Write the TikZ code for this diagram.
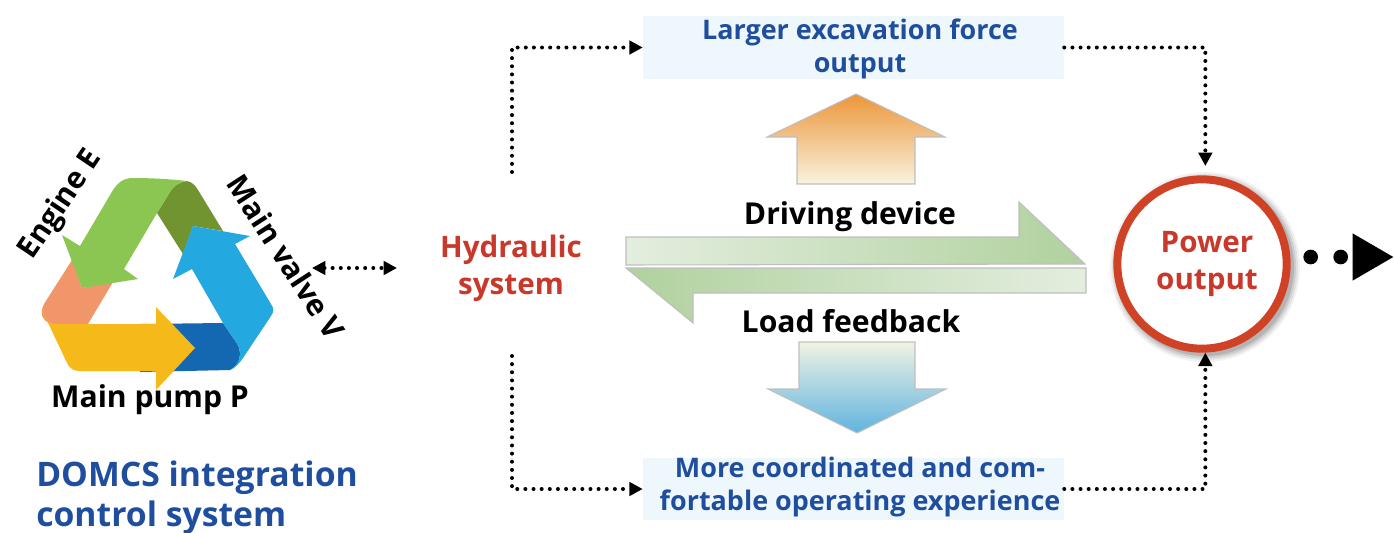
\documentclass[tikz,border=0pt]{standalone}
\usepackage{fontspec}
\setmainfont{Open Sans}
\usetikzlibrary{arrows.meta,calc}
\definecolor{redtxt}{HTML}{C8392B}
\definecolor{bluetxt}{HTML}{1F4E9E}
\definecolor{boxfill}{HTML}{EEF7FB}
\definecolor{ringred}{HTML}{D04226}
\definecolor{orgtop}{HTML}{EC963A}
\definecolor{orgbot}{HTML}{F8F3DF}
\definecolor{blutop}{HTML}{F0F3E3}
\definecolor{blubot}{HTML}{60B3E0}
\definecolor{grnlight}{HTML}{E4EEDF}
\definecolor{grndark}{HTML}{B0D19E}
\tikzset{
  lbl/.style={font=\bfseries\fontsize{22.6}{27}\selectfont,text=black,inner sep=0pt,align=center},
  rotlbl/.style={font=\bfseries\fontsize{22.4}{27}\selectfont,text=black,inner sep=0pt,align=center},
  boxrect/.style={fill=boxfill,inner sep=0pt,minimum width=315.75pt,minimum height=47pt},
  boxlbl/.style={font=\bfseries\fontsize{20.2}{24.5}\selectfont,text=bluetxt,inner sep=0pt,align=center},
  redlbl/.style={font=\bfseries\fontsize{22.2}{27.5}\selectfont,text=redtxt,inner sep=0pt,align=center},
  dots/.style={line width=3pt,line cap=round,dash pattern=on 0pt off 6.1pt,black},
  tipB/.style={-{Triangle[length=10pt,width=10pt]}},
  outl/.style={draw=black!25,line width=0.8pt},
}
\begin{document}
\begin{tikzpicture}[x=0.75pt,y=-0.75pt]
\useasboundingbox (0,0) rectangle (1394,532);
% recycling triangle
\fill[color={rgb,255:red,240;green,150;blue,106}] (72,260) -- (44,304) .. controls (41,310) and (41,316) .. (44,319) .. controls (47,323) and (50,324) .. (56,324) -- (88,324) -- (113,282) -- (82,288) -- cycle;
\fill[color={rgb,255:red,20;green,104;blue,178}] (140,324) -- (223,323) -- (238,345) .. controls (242,354) and (240,365) .. (230,370) -- (140,372) -- cycle;
\fill[color={rgb,255:red,113;green,147;blue,48}] (187,181) .. controls (192,182) and (195,185) .. (198,190) -- (223,231) -- (193,226) -- (183,254) -- (157,213) -- (170,192) .. controls (174,185) and (180,182) .. (187,181) -- cycle;
\fill[color={rgb,255:red,140;green,198;blue,82}] (62,235) -- (80,246) -- (113,190) .. controls (117,184) and (122,178) .. (133,178) .. controls (150,178) and (170,179) .. (187,181) .. controls (178,183) and (173,187) .. (170,192) -- (157,213) -- (124,269) -- (138,279) -- (82,288) -- cycle;
\fill[color={rgb,255:red,36;green,168;blue,224}] (193,226) -- (250,236) -- (235,244) -- (271,304) .. controls (274,308) and (274,312) .. (271,316) -- (243,358) .. controls (239,364) and (235,368) .. (230,370) .. controls (240,364) and (242,354) .. (238,345) -- (223,323) -- (192,269) -- (173,279) -- cycle;
\fill[color={rgb,255:red,246;green,185;blue,26}] (42,310) .. controls (44,318) and (47,324) .. (56,324) -- (156,324) -- (156,307) -- (195,348) -- (156,390) -- (156,371) -- (80,371) .. controls (74,371) and (70,369) .. (67,363) -- cycle;
\node[rotlbl,rotate=56] (engine) at (61,205) {Engine E};
\node[rotlbl,rotate=-57] (valve) at (286,257) {Main valve V};
\node[lbl] (pump) at (150,400) {Main pump P};
\node[font=\bfseries\fontsize{25.3}{30}\selectfont,text=bluetxt,inner sep=0pt,align=left,anchor=west] (domcs) at (36,497.5) {DOMCS integration\\control system};
% centre arrows
\shade[top color=orgtop,bottom color=orgbot,outl] (856,94) -- (945,137) -- (915,137) -- (915,184) -- (797,184) -- (797,137) -- (767,137) -- cycle;
\shade[top color=blutop,bottom color=blubot,outl] (799,342) -- (915,342) -- (915,389) -- (946,389) -- (857,433) -- (768,389) -- (799,389) -- cycle;
\shade[left color=grnlight,right color=grndark,outl] (626,237) -- (1019,237) -- (1019,202) -- (1085,264) -- (626,265) -- cycle;
\shade[left color=grndark,right color=grnlight,outl] (626,268) -- (1086,268) -- (1086,293) -- (693,293) -- (693,323) -- cycle;
\node[lbl] (driving) at (850,217) {Driving device};
\node[lbl] (load) at (851,321.5) {Load feedback};
\node[redlbl] (hyd) at (511,268) {Hydraulic\\system};
\node[boxrect] (topbox) at (853.5,47.5) {};
\node[boxrect] (botbox) at (853.5,489) {};
\node[boxlbl] (toplbl) at (860,49) {Larger excavation force\\output};
\node[boxlbl] (botlbl) at (860,487) {More coordinated and com-\\fortable operating experience};
% power ring
\foreach \r/\o in {95/.05,93/.07,91/.09,89/.12}{\fill[black,opacity=\o] (1205,267) circle (\r);}
\node[circle,draw=ringred,line width=6pt,fill=white,minimum size=127pt,inner sep=0pt] (power) at (1202,264) {};
\node[redlbl] (powerlbl) at (1207,264) {Power\\output};
% connectors
\coordinate (hydtop) at (512,172);
\coordinate (hydbot) at (512,356);
\coordinate (valvepos) at (312,268);
\coordinate (hydleft) at (397,268);
\coordinate (farend) at (1394,257);
\coordinate (pwrtop) at ([xshift=2.5pt,yshift=7pt]power.north);
\coordinate (pwrbot) at ([xshift=2.5pt]power.south);
\draw[dots,tipB] (hydtop) |- (topbox.west);
\draw[dots,tipB] (hydbot) |- (botbox.west);
\draw[dots,tipB] (topbox.east) -| (pwrtop);
\draw[dots,tipB] (botbox.east) -| (pwrbot);
\draw[dots,{Triangle[length=10pt,width=10pt]}-{Triangle[length=10pt,width=10pt]}] (valvepos) -- (hydleft);
\draw[line width=11pt,line cap=round,dash pattern=on 0pt off 22.5pt,-{Triangle[length=31pt,width=33pt]},shorten <=15pt] (power.east |- farend) -- (farend);
\end{tikzpicture}
\end{document}
